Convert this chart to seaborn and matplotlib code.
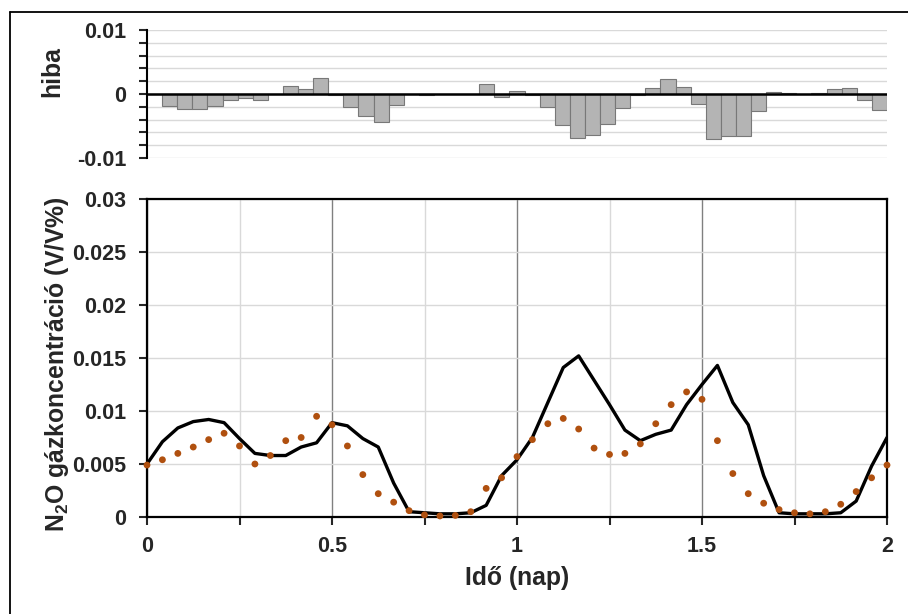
import numpy as np
import matplotlib
matplotlib.use('Agg')
import matplotlib.pyplot as plt
from matplotlib.ticker import MultipleLocator, FixedLocator, FixedFormatter
import seaborn as sns

# hourly time points over two days
hours = list(range(49))
days = np.array(hours) / 24

# modelled N2O concentration (black line)
model = [0.0050, 0.0071, 0.0084, 0.0090, 0.0092, 0.0089, 0.0074, 0.0060, 0.0058, 0.0058,
         0.0066, 0.0070, 0.0089, 0.0086, 0.0074, 0.0066, 0.0032, 0.0005, 0.0004, 0.0003,
         0.0003, 0.0004, 0.0011, 0.0039, 0.0054, 0.0075, 0.0108, 0.0141, 0.0152, 0.0129,
         0.0106, 0.0082, 0.0072, 0.0078, 0.0082, 0.0106, 0.0125, 0.0143, 0.0108, 0.0087,
         0.0039, 0.0004, 0.0003, 0.0003, 0.0003, 0.0004, 0.0015, 0.0048, 0.0075]

# measured N2O concentration (dots)
measured = [0.0049, 0.0054, 0.0060, 0.0066, 0.0073, 0.0079, 0.0067, 0.0050, 0.0058, 0.0072,
            0.0075, 0.0095, 0.0087, 0.0067, 0.0040, 0.0022, 0.0014, 0.0006, 0.0002, 0.0001,
            0.00015, 0.0005, 0.0027, 0.0037, 0.0057, 0.0073, 0.0088, 0.0093, 0.0083, 0.0065,
            0.0059, 0.0060, 0.0069, 0.0088, 0.0106, 0.0118, 0.0111, 0.0072, 0.0041, 0.0022,
            0.0013, 0.0007, 0.0004, 0.0003, 0.0005, 0.0012, 0.0024, 0.0037, 0.0049]

# error (hiba) bars
error = [0.0, -0.0018, -0.0024, -0.0023, -0.0019, -0.0009, -0.0006, -0.0010, 0.0, 0.0013,
         0.0008, 0.0025, -0.0002, -0.0020, -0.0034, -0.0043, -0.0017, 0.0, -0.0001, 0.0,
         0.0, 0.0, 0.0016, -0.0004, 0.0004, -0.0001, -0.0021, -0.0048, -0.0069, -0.0064,
         -0.0047, -0.0022, -0.0001, 0.0009, 0.0024, 0.0011, -0.0015, -0.0071, -0.0066, -0.0065,
         -0.0026, 0.0003, 0.0001, 0.0, 0.0002, 0.0008, 0.0009, -0.0010, -0.0025]

x_ticks = [0, 0.5, 1, 1.5, 2]
x_labels = ['0', '0.5', '1', '1.5', '2']
y_ticks = [0, 0.005, 0.01, 0.015, 0.02, 0.025, 0.03]
y_labels = ['0', '0.005', '0.01', '0.015', '0.02', '0.025', '0.03']
err_ticks = [-0.01, 0, 0.01]
err_labels = ['-0.01', '0', '0.01']

sns.set_style('white')
plt.rcParams['font.family'] = ['Liberation Sans', 'DejaVu Sans']
plt.rcParams['font.weight'] = 'bold'
plt.rcParams['mathtext.fontset'] = 'custom'
plt.rcParams['mathtext.bf'] = 'Liberation Sans:bold'
plt.rcParams['mathtext.rm'] = 'Liberation Sans:bold'

W, H = 908, 614
fig = plt.figure(figsize=(W / 100, H / 100), dpi=100)

def box(l, t, r, b):
    return [l / W, 1 - b / H, (r - l) / W, (b - t) / H]

ax_err = fig.add_axes(box(147, 30, 887, 158))
ax = fig.add_axes(box(147, 199, 887, 517))

light = '#D9D9D9'
dark = '#808080'
tick_size = 15.5
title_size = 17.8

# ---- error panel ----
ax_err.set_axisbelow(True)
sns.barplot(x=hours, y=error, ax=ax_err, color='#B4B4B4', saturation=1, width=1,
            edgecolor='#787878', linewidth=0.8)
ax_err.axhline(0, color='black', lw=1.8, zorder=5)
ax_err.set_xlim(-0.5, 48.5)
ax_err.set_ylim(-0.01, 0.01)
ax_err.yaxis.set_major_locator(FixedLocator(err_ticks))
ax_err.yaxis.set_major_formatter(FixedFormatter(err_labels))
ax_err.yaxis.set_minor_locator(MultipleLocator(0.002))
ax_err.grid(True, axis='y', which='both', color=light, lw=1)
ax_err.tick_params(axis='y', which='both', direction='out', length=6, width=1.5,
                   left=True, labelsize=tick_size, pad=9)
ax_err.set_xticks([])
ax_err.set_xlabel('')
ax_err.set_ylabel('')
for s in ['top', 'right', 'bottom']:
    ax_err.spines[s].set_visible(False)
ax_err.spines['left'].set_color('black')
ax_err.spines['left'].set_linewidth(1.5)

# ---- concentration panel ----
ax.set_axisbelow(True)
sns.lineplot(x=days, y=model, ax=ax, color='black', linewidth=2.4)
sns.scatterplot(x=days, y=measured, ax=ax, color='#B0500F', s=24, edgecolor='none',
                zorder=4, clip_on=False)
ax.set_xlim(0, 2)
ax.set_ylim(0, 0.03)
ax.xaxis.set_major_locator(FixedLocator(x_ticks))
ax.xaxis.set_major_formatter(FixedFormatter(x_labels))
ax.xaxis.set_minor_locator(MultipleLocator(0.25))
ax.yaxis.set_major_locator(FixedLocator(y_ticks))
ax.yaxis.set_major_formatter(FixedFormatter(y_labels))
ax.grid(True, axis='x', which='major', color=dark, lw=1)
ax.grid(True, axis='x', which='minor', color=light, lw=1)
ax.grid(True, axis='y', which='major', color=light, lw=1)
ax.tick_params(axis='x', which='both', direction='out', length=6, width=1.5,
               bottom=True, labelsize=tick_size, pad=8)
ax.tick_params(axis='y', which='major', direction='out', length=6, width=1.5,
               left=True, labelsize=tick_size, pad=9)
for s in ax.spines.values():
    s.set_color('black')
    s.set_linewidth(1.6)
ax.set_xlabel('')
ax.set_ylabel('')

# axis titles
fig.text(517 / W, 1 - 578 / H, 'Idő (nap)', ha='center', va='center',
         fontsize=title_size, fontweight='bold')
fig.text(57 / W, 1 - 364 / H, r'$\mathbf{N_2O}$ gázkoncentráció (V/V%)', ha='center',
         va='center', rotation=90, fontsize=title_size, fontweight='bold')
fig.text(52 / W, 1 - 72 / H, 'hiba', ha='center', va='center', rotation=90,
         fontsize=title_size, fontweight='bold')

# chart area border (left and top edges visible)
fig.add_artist(plt.Line2D([10 / W, 10 / W], [0, 1 - 12 / H], color='black', lw=1.3,
                          transform=fig.transFigure))
fig.add_artist(plt.Line2D([10 / W, 1], [1 - 12 / H, 1 - 12 / H], color='black', lw=1.3,
                          transform=fig.transFigure))

fig.savefig('out.png', dpi=100)
